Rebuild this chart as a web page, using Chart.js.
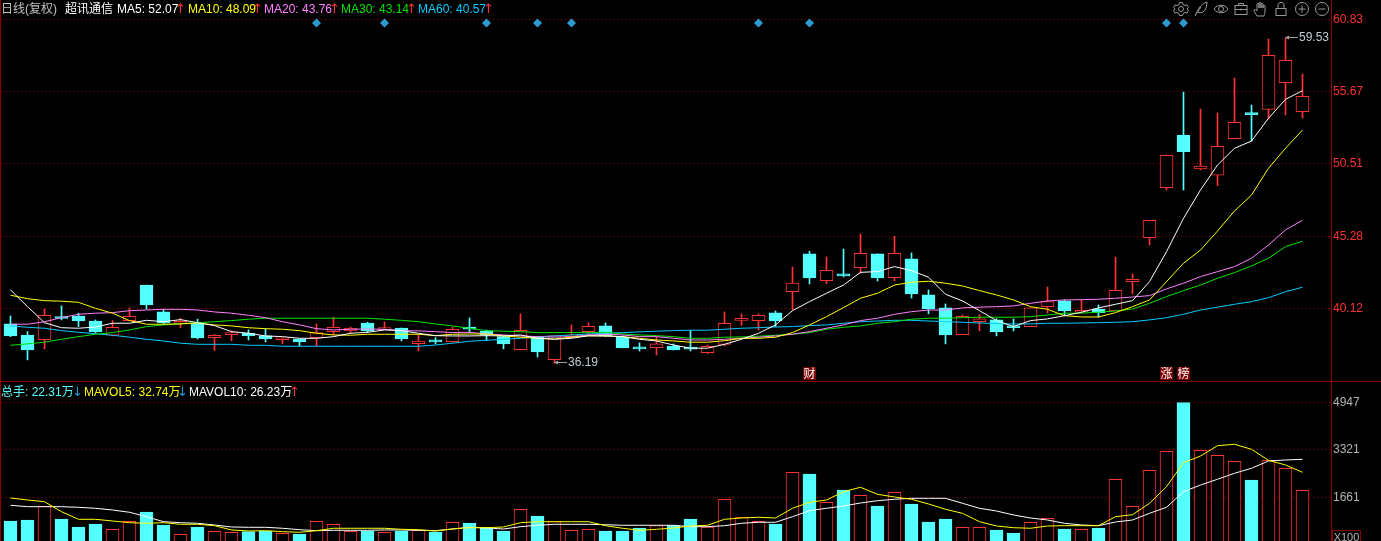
<!DOCTYPE html>
<html>
<head>
<meta charset="utf-8">
<title>超讯通信 日线</title>
<script src="https://cdn.jsdelivr.net/npm/chart.js@4"></script>
<style>
html, body { margin: 0; padding: 0; background: #000; overflow: hidden; }
body { position: relative; width: 1381px; height: 541px; font: 12px "Liberation Sans", Arial, "Noto Sans CJK SC", sans-serif; }
canvas { position: absolute; left: 0; }
.t { position: absolute; white-space: nowrap; line-height: 14px; }
.a { position: absolute; width: 10px; text-align: center; line-height: 14px; font: 13px/14px "DejaVu Sans"; }
.line { position: absolute; background: #8c0000; }
.icon { position: absolute; top: 1px; width: 16px; height: 16px; fill: none; stroke: #999; stroke-width: 1; }
</style>
</head>
<body>
<canvas id="price-chart" width="1381" height="381" style="top:0"></canvas>
<canvas id="vol-chart" width="1381" height="159" style="top:382px"></canvas>
<div class="line" style="left:0;top:0;width:1px;height:541px"></div>
<div class="line" style="left:0;top:381px;width:1381px;height:1px"></div>

<div class="t" style="left:1px;top:2px;color:#c0c0c0">日线(复权)</div>
<div class="t" style="left:65px;top:2px;color:#fff">超讯通信</div>
<div class="t" style="left:117px;top:2px;color:#fff">MA5: 52.07</div>
<div class="a" style="left:175px;top:2px;color:#ff3232">↑</div>
<div class="t" style="left:188px;top:2px;color:#ff0">MA10: 48.09</div>
<div class="a" style="left:252px;top:2px;color:#ff3232">↑</div>
<div class="t" style="left:264px;top:2px;color:#ff80ff">MA20: 43.76</div>
<div class="a" style="left:329px;top:2px;color:#ff3232">↑</div>
<div class="t" style="left:341px;top:2px;color:#00e600">MA30: 43.14</div>
<div class="a" style="left:406px;top:2px;color:#ff3232">↑</div>
<div class="t" style="left:418px;top:2px;color:#00ccff">MA60: 40.57</div>
<div class="a" style="left:483px;top:2px;color:#ff3232">↑</div>

<div class="t" style="left:1px;top:385px;color:#54ffff">总手: 22.31万</div>
<div class="a" style="left:72px;top:385px;color:#1e9bd7">↓</div>
<div class="t" style="left:84px;top:385px;color:#ff0">MAVOL5: 32.74万</div>
<div class="a" style="left:177px;top:385px;color:#1e9bd7">↓</div>
<div class="t" style="left:189px;top:385px;color:#fff">MAVOL10: 26.23万</div>
<div class="a" style="left:289px;top:385px;color:#ff3232">↑</div>

<div class="t" style="left:1332px;top:530px;height:11px;line-height:12px;width:29px;box-sizing:border-box;border:1px solid #8c0000;border-bottom:0;color:#b4b4b4;font-size:11px;text-align:center">X100</div>

<svg class="icon" style="left:1173px" viewBox="0 0 16 16"><circle cx="8" cy="8" r="2.5"/><path d="M6.5 1.5h3l.6 2 1.9 1 2-.6 1.4 2.600-1.500 1.500 1.500 1.500-1.400 2.600-2-.6-1.900 1-.6 2h-3l-.6-2-1.900-1-2 .6L.6 9.500 2.100 8 .6 6.500 2 3.900l2 .6 1.900-1z"/></svg>
<svg class="icon" style="left:1192px" viewBox="0 0 16 16"><path d="M3 15L7 7c2-3 5-5 8-6 0 4-1 8-4 10-2 1-4 1-5 0"/><path d="M4 13l5-7"/></svg>
<svg class="icon" style="left:1213px" viewBox="0 0 16 16"><path d="M1 8c3-5 11-5 14 0-3 5-11 5-14 0z"/><circle cx="8" cy="8" r="2.500"/></svg>
<svg class="icon" style="left:1233px" viewBox="0 0 16 16"><rect x="2" y="4.500" width="12" height="9"/><path d="M5.500 4.500v-2h5v2M2 8.500h12M8 7.500v2"/></svg>
<svg class="icon" style="left:1253px" viewBox="0 0 16 16"><path d="M4 15c-1-2-3-4-3-6 1-1 2 0 3 1V3c0-1 2-1 2 0v4-5c0-1 2-1 2 0v5-4c0-1 2-1 2 0v4-2c0-1 2-1 2 0v6c0 2-1 3-1 4z"/></svg>
<svg class="icon" style="left:1273px" viewBox="0 0 16 16"><rect x="3" y="7.500" width="10" height="7"/><path d="M5 7.500V4c0-3.500 6-3.500 6 0v3.500"/></svg>
<svg class="icon" style="left:1294px" viewBox="0 0 16 16"><circle cx="8" cy="8" r="6.500"/><path d="M4.500 8h7M8 4.500v7"/></svg>
<svg class="icon" style="left:1314px" viewBox="0 0 16 16"><circle cx="8" cy="8" r="6.500"/><path d="M4.500 8h7"/></svg>

<script>
// K线数据
const open = [39.01,38.22,37.88,39.51,39.58,39.22,38.20,39.25,41.80,39.87,39.06,39.06,38.03,38.24,38.34,38.15,37.88,37.93,38.03,38.46,
  38.51,39.08,38.60,38.72,37.60,37.86,37.74,38.79,38.49,38.10,37.17,38.06,36.45,38.08,38.46,38.87,38.06,37.27,37.31,37.43,
  37.24,36.95,37.55,39.27,39.25,39.80,41.32,44.03,42.11,42.59,43.04,44.03,42.33,43.67,41.09,40.16,38.24,39.17,39.30,38.82,
  38.82,40.25,40.66,39.85,40.08,39.94,42.04,45.19,48.78,52.55,50.12,49.67,52.29,54.11,54.39,56.30,54.22];
const close = [38.15,37.15,39.63,39.40,39.22,38.44,38.77,39.56,40.37,39.08,39.15,38.01,38.20,38.29,38.17,37.93,38.01,37.72,38.39,38.77,
  38.72,38.51,38.70,37.93,37.79,37.72,38.63,38.63,38.22,37.58,38.56,37.00,38.17,38.15,38.84,38.15,37.29,37.22,37.58,37.15,
  37.20,37.41,39.06,39.30,39.63,39.22,41.93,42.31,42.86,42.45,44.08,42.31,44.08,41.16,40.08,38.22,39.56,39.37,38.44,38.74,
  40.16,40.61,39.94,39.99,39.82,41.42,42.21,46.44,51.10,51.36,50.33,51.74,53.46,54.01,58.26,57.91,55.33];
const high = [39.58,38.46,40.08,40.30,39.78,39.30,39.25,40.16,41.80,40.06,39.42,39.35,38.27,38.51,38.58,38.65,38.01,37.93,39.01,39.51,
  38.79,39.13,39.15,38.72,38.22,38.03,38.77,39.44,38.58,38.15,39.73,38.10,38.17,38.94,39.08,39.08,38.15,37.65,38.10,37.58,
  38.53,37.50,39.87,39.73,39.73,39.94,43.09,44.22,43.81,44.38,45.46,44.03,45.29,44.10,41.45,40.44,39.65,39.68,39.39,39.37,
  40.16,41.66,40.73,40.73,40.37,43.81,42.59,46.44,51.12,55.63,54.42,54.13,56.64,54.70,59.43,59.53,56.92];
const low = [38.10,36.43,37.22,39.30,38.82,38.39,38.15,39.22,40.08,38.99,38.74,37.93,37.10,37.81,37.86,37.72,37.58,37.43,37.43,38.22,
  38.36,38.39,38.58,37.79,37.07,37.58,37.70,38.39,37.81,37.22,37.15,36.64,36.19,38.03,38.22,38.10,37.29,37.07,36.79,37.15,
  37.07,36.88,37.43,38.92,38.58,38.82,40.01,41.88,41.90,42.38,42.64,42.09,42.09,40.87,39.73,37.58,38.24,38.51,38.15,38.51,
  38.82,39.80,39.65,39.85,39.51,39.94,41.16,44.67,48.61,48.61,50.04,48.92,52.27,52.10,53.70,53.99,53.77];

// 均线
const ma5 = [41.45,40.25,39.10,38.74,38.70,38.79,39.06,39.06,39.27,39.17,39.32,39.10,38.89,38.46,38.34,38.15,38.10,37.98,37.98,38.10,
  38.34,38.41,38.58,38.53,38.34,38.17,38.15,38.15,38.17,38.15,38.22,37.98,37.91,37.98,38.17,38.15,38.10,37.91,37.79,37.50,
  37.27,37.27,37.55,37.91,38.34,38.94,39.96,40.61,41.21,41.80,42.71,42.76,43.12,42.83,42.36,41.14,40.66,39.96,39.25,38.82,
  39.25,39.37,39.60,39.85,40.16,40.42,40.68,42.04,44.19,46.58,48.61,50.40,51.60,52.12,53.75,55.11,55.73];
const ma10 = [41.07,40.82,40.68,40.64,40.56,40.13,39.78,39.25,38.99,38.99,39.01,39.08,38.94,38.87,38.74,38.67,38.63,38.53,38.34,38.22,
  38.20,38.27,38.27,38.27,38.27,38.17,38.27,38.29,38.29,38.15,38.06,37.98,37.93,38.06,38.15,38.15,38.10,37.98,37.86,37.79,
  37.70,37.70,37.81,37.98,37.98,38.06,38.39,38.94,39.53,40.18,40.85,41.21,41.80,42.00,42.07,41.93,41.73,41.40,41.09,40.73,
  40.25,40.06,39.60,39.51,39.51,39.82,40.25,40.73,42.04,43.36,44.31,45.67,47.11,48.25,50.17,51.60,52.91];
const ma20 = [38.99,38.99,39.17,39.46,39.70,39.78,39.82,39.96,40.01,40.06,40.06,40.01,39.87,39.78,39.63,39.46,39.17,38.94,38.67,38.58,
  38.63,38.65,38.63,38.53,38.51,38.46,38.39,38.41,38.29,38.22,38.15,38.10,38.06,38.10,38.22,38.27,38.22,38.10,38.10,37.98,
  37.86,37.86,37.91,37.98,38.06,38.15,38.27,38.46,38.70,38.94,39.25,39.42,39.70,39.89,40.01,40.01,40.16,40.21,40.25,40.30,
  40.49,40.66,40.73,40.75,40.78,40.85,40.94,41.04,41.52,41.93,42.40,42.76,43.12,43.72,44.67,45.75,46.44];
const ma30 = [37.48,37.58,37.70,37.91,38.10,38.27,38.39,38.58,38.82,38.94,39.03,39.10,39.17,39.25,39.35,39.42,39.42,39.42,39.42,39.42,
  39.42,39.42,39.35,39.27,39.17,39.01,38.87,38.70,38.53,38.49,38.46,38.39,38.39,38.39,38.39,38.41,38.29,38.22,38.17,38.10,
  37.98,37.98,38.06,38.08,38.13,38.20,38.27,38.39,38.63,38.77,38.87,39.06,39.17,39.35,39.42,39.42,39.46,39.49,39.49,39.49,
  39.53,39.65,39.78,39.78,39.85,39.94,40.08,40.49,40.97,41.40,41.80,42.28,42.69,43.17,43.72,44.55,44.94];
const ma60 = [38.87,38.77,38.70,38.53,38.41,38.31,38.20,38.06,37.91,37.79,37.63,37.55,37.55,37.55,37.48,37.48,37.41,37.41,37.41,37.41,
  37.41,37.41,37.41,37.41,37.41,37.50,37.63,37.77,37.84,37.91,37.98,38.10,38.15,38.22,38.29,38.34,38.39,38.44,38.49,38.53,
  38.56,38.56,38.63,38.70,38.74,38.79,38.82,38.89,38.94,39.06,39.17,39.22,39.27,39.27,39.22,39.17,39.13,39.08,39.03,39.01,
  39.01,39.06,39.06,39.08,39.10,39.13,39.17,39.30,39.46,39.70,40.01,40.21,40.42,40.61,40.89,41.32,41.64];

// 成交量 (X100)
const volume = [840,874,1359,909,632,736,552,829,1151,701,379,632,483,448,469,493,413,389,829,725,
  483,493,448,493,517,458,795,770,607,493,1245,1013,815,517,552,493,493,597,677,677,
  909,632,1592,968,829,736,2528,2469,1488,1914,1730,1359,1834,1429,805,909,621,621,528,424,
  795,933,562,552,597,2285,1349,2597,3255,4947,3290,3117,2909,2261,2943,2666,1904];
const mavol5 = [1637,1567,1509,1162,898,898,840,781,760,781,725,725,677,528,493,503,469,448,503,587,
  587,587,587,552,538,493,562,607,607,632,781,815,815,815,815,677,587,517,552,597,
  666,691,898,944,968,944,1280,1488,1567,1855,2008,1765,1671,1592,1429,1245,1106,815,666,607,
  587,666,677,677,677,989,1058,1453,2028,2860,3092,3449,3498,3325,2943,2781,2528];
const mavol10 = [1384,1335,1335,1335,1314,1280,1221,1141,989,815,781,760,701,632,621,621,587,538,503,517,
  517,517,528,528,517,503,562,621,597,562,642,691,725,725,725,711,691,691,691,691,
  642,642,677,760,795,795,989,1197,1280,1359,1463,1543,1592,1626,1626,1626,1453,1280,1186,1048,
  944,874,760,701,677,805,874,1106,1314,1855,2087,2285,2493,2666,2919,2954,2978];

const priceTicks = [40.12, 45.28, 50.51, 55.67, 60.83];
const volTicks = [1661, 3321, 4947];

// 顶部菱形标记 / 底部事件标签
const markerIdx = [18, 22, 28, 31, 33, 44, 47, 68, 69];
const markerLevel = 60.58;
const eventIdx = [47, 68, 69];
const eventText = ['财', '涨', '榜'];

const RED = '#ff3232';
const CYAN = '#54ffff';
const isUp = open.map((o, i) => close[i] >= o);
const candleColors = isUp.map(u => u ? RED : CYAN);
const fillColors = isUp.map(u => u ? '#000' : CYAN);

function series(values) {
    return values.map((v, i) => ({ x: i, y: v }));
}

function maLine(label, values, color) {
    return { type: 'line', label: label, data: series(values), borderColor: color, borderWidth: 1,
             pointRadius: 0, tension: 0, fill: false, order: 1 };
}

function xAxis() {
    // 每根K线17px
    return { type: 'linear', display: false, offset: false, min: -0.5588235, max: 77.6764706 };
}

function yAxis(min, max, ticks, labelColor) {
    return {
        position: 'right', min: min, max: max,
        afterBuildTicks: s => { s.ticks = ticks.map(v => ({ value: v })); },
        afterFit: s => { s.width = 50; s.paddingTop = 0; s.paddingBottom = 0; },
        grid: { color: '#a80000', drawTicks: false, lineWidth: 1 },
        border: { display: true, color: '#8c0000', dash: [1, 3] },
        ticks: { color: labelColor, padding: 2, autoSkip: false, crossAlign: 'near',
                 font: { size: 12, family: '"Liberation Sans", Arial' },
                 callback: v => ticks.includes(v) ? (ticks === priceTicks ? v.toFixed(2) : String(v)) : '' }
    };
}

// 最高/最低价标注和事件标签
const pricePlugin = {
    id: 'priceNotes',
    afterDatasetsDraw(chart) {
        const c = chart.ctx, xs = chart.scales.x, ys = chart.scales.y;
        function note(i, price) {
            const x = Math.floor(xs.getPixelForValue(i)), y = Math.round(ys.getPixelForValue(price)) - 0.5;
            c.strokeStyle = c.fillStyle = '#a0a0a0';
            c.lineWidth = 1;
            c.beginPath();
            c.moveTo(x + 2, y); c.lineTo(x + 13, y);
            c.stroke();
            c.beginPath();
            c.moveTo(x, y); c.lineTo(x + 4, y - 2); c.lineTo(x + 4, y + 2);
            c.fill();
            c.fillStyle = '#c0ccd4';
            c.font = '12px "Liberation Sans", Arial';
            c.textBaseline = 'middle';
            c.textAlign = 'left';
            c.fillText(price.toFixed(2), x + 14, y + 0.5);
        }
        const maxHigh = Math.max(...high), minLow = Math.min(...low);
        note(high.indexOf(maxHigh), maxHigh);
        note(low.indexOf(minLow), minLow);

        c.font = '12px "Noto Sans CJK SC"';
        c.textAlign = 'center';
        c.textBaseline = 'middle';
        eventIdx.forEach((i, k) => {
            const x = xs.getPixelForValue(i);
            c.fillStyle = '#7a0000';
            c.fillRect(x - 6.5, 367, 13, 13);
            c.fillStyle = '#fff';
            c.fillText(eventText[k], x, 373.5);
        });
    }
};

new Chart(document.getElementById('price-chart'), {
    type: 'bar',
    data: {
        datasets: [
            maLine('MA5', ma5, '#ffffff'),
            maLine('MA10', ma10, '#ffff00'),
            maLine('MA20', ma20, '#ff80ff'),
            maLine('MA30', ma30, '#00e600'),
            maLine('MA60', ma60, '#00ccff'),
            { type: 'line', label: 'marks', data: markerIdx.map(i => ({ x: i, y: markerLevel })), showLine: false,
              pointStyle: 'rectRot', pointRadius: 4.5, pointBackgroundColor: '#2d9ad0', pointBorderWidth: 0, order: 1 },
            { label: 'body', data: open.map((o, i) => ({ x: i, y: [o, close[i]] })), grouped: false, barThickness: 13,
              minBarLength: 2, backgroundColor: fillColors, borderColor: candleColors, borderWidth: 1, borderSkipped: false, order: 2 },
            { label: 'wick', data: low.map((l, i) => ({ x: i, y: [l, high[i]] })), grouped: false, barThickness: 1,
              backgroundColor: candleColors, borderWidth: 0, order: 3 }
        ]
    },
    options: {
        responsive: false, animation: false,
        layout: { padding: { left: 1 }, autoPadding: false },
        plugins: { legend: { display: false }, tooltip: { enabled: false } },
        scales: { x: xAxis(), y: yAxis(34.92, 62.23, priceTicks, RED) }
    },
    plugins: [pricePlugin]
});

new Chart(document.getElementById('vol-chart'), {
    type: 'bar',
    data: {
        datasets: [
            maLine('MAVOL5', mavol5, '#ffff00'),
            maLine('MAVOL10', mavol10, '#ffffff'),
            { label: 'volume', data: series(volume), grouped: false, barThickness: 13,
              backgroundColor: fillColors, borderColor: candleColors, borderWidth: 1, borderSkipped: false, order: 2 }
        ]
    },
    options: {
        responsive: false, animation: false,
        layout: { padding: { left: 1 }, autoPadding: false },
        plugins: { legend: { display: false }, tooltip: { enabled: false } },
        scales: { x: xAxis(), y: yAxis(146, 5657, volTicks, '#b4b4b4') }
    }
});
</script>
</body>
</html>
